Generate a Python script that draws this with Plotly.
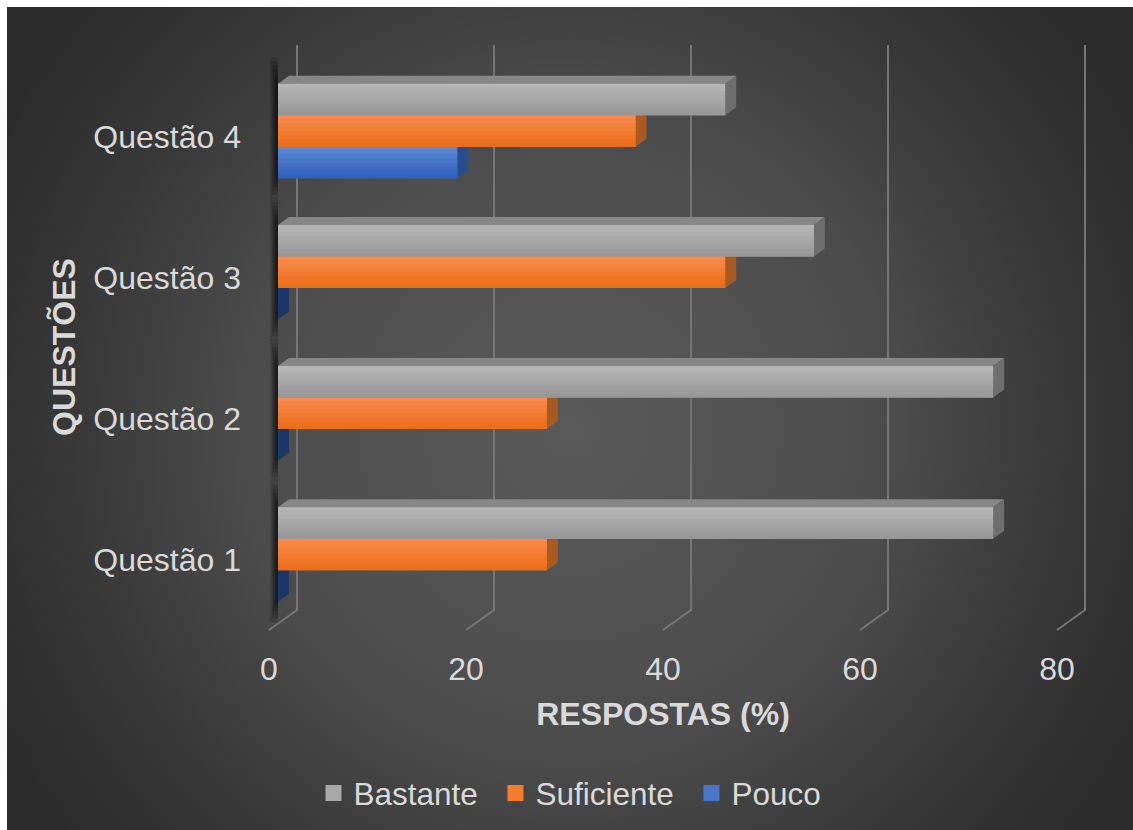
import base64
import plotly.graph_objects as go

categories = ["Questão 1", "Questão 2", "Questão 3", "Questão 4"]
bastante = [72.6, 72.6, 54.4, 45.4]
suficiente = [27.3, 27.3, 45.4, 36.3]
pouco = [0, 0, 0, 18.2]
x_ticks = [0, 20, 40, 60, 80]

W, H = 1133, 830
L, R, T, B = 240, 1086, 40, 654
PX = 9.85      # pixels per percent
PY = 141.17    # pixels per category
X0 = 278
Y0 = 554.5
xr = [(L - X0) / PX, (R - X0) / PX]
yr = [(Y0 - B) / PY, (Y0 - T) / PY]
dx = 11 / PX
dy = 8 / PY
slot = 31.5 / PY

FONT = "Liberation Sans, Arial, sans-serif"
TXT = "#d9d9d9"

series = [
    ("Pouco", pouco, -1, "#4a76c8", (0x5c, 0x85, 0xd2), (0x2f, 0x62, 0xbf), "#274d8f", "#3a5fa5"),
    ("Suficiente", suficiente, 0, "#f47c2c", (0xf9, 0x8b, 0x4e), (0xec, 0x6e, 0x18), "#a85a20", "#c66a28"),
    ("Bastante", bastante, 1, "#a8a8a8", (0xb6, 0xb6, 0xb6), (0x98, 0x98, 0x98), "#6e6e6e", "#878787"),
]
legend_pad = {"Bastante": "\u2009\u2009", "Suficiente": "\u2009\u2009", "Pouco": ""}

shapes = []
# back wall gridlines with the slanted foot
for v in x_ticks:
    gx = v + 19 / PX
    px = lambda p: (Y0 - p) / PY
    shapes.append(dict(type="path", layer="below", xref="x", yref="y",
                       path=f"M{v - 9 / PX},{px(630)} L{gx},{px(610)} L{gx},{px(45)}",
                       line=dict(color="#757575", width=2)))

# soft shadow on the wall beside each group
for i in range(len(categories)):
    for wd, ext in [(8, 68), (6.5, 64), (5.5, 60), (4.5, 56), (3.5, 52), (2.5, 48), (1.5, 44)]:
        shapes.append(dict(type="rect", layer="below", xref="x", yref="y",
                           x0=-wd / PX, x1=0, y0=i - ext / PY, y1=i + ext / PY + 6 / PY,
                           fillcolor="rgba(0,0,0,0.13)", line=dict(width=0)))

# depth faces
for name, vals, pos, col, c1, c2, side, top in series:
    for i, v in enumerate(vals):
        y_hi = i + (pos + 0.5) * slot
        y_lo = i + (pos - 0.5) * slot
        shapes.append(dict(type="path", layer="below", xref="x", yref="y", fillcolor=top, line=dict(width=0),
                           path=f"M0,{y_hi} L{dx},{y_hi + dy} L{v + dx},{y_hi + dy} L{v},{y_hi} Z"))
        shapes.append(dict(type="path", layer="below", xref="x", yref="y",
                           fillcolor="#1b3768" if v == 0 else side, line=dict(width=0),
                           path=f"M{v},{y_lo} L{v + dx},{y_lo + dy} L{v + dx},{y_hi + dy} L{v},{y_hi} Z"))

# vertical shading of the front faces
N = 8
for name, vals, pos, col, c1, c2, side, top in series:
    for i, v in enumerate(vals):
        if v == 0:
            continue
        y_hi = i + (pos + 0.5) * slot
        for s in range(N):
            t = s / (N - 1)
            c = tuple(round(a + (b - a) * t) for a, b in zip(c1, c2))
            shapes.append(dict(type="rect", layer="above", xref="x", yref="y", x0=0, x1=v,
                               y0=y_hi - (s + 1) * slot / N, y1=y_hi - s * slot / N,
                               fillcolor=f"rgb{c}", line=dict(width=0)))

svg = f'''<svg xmlns="http://www.w3.org/2000/svg" width="{W}" height="{H}">
<defs><radialGradient id="g" gradientUnits="userSpaceOnUse" cx="570" cy="430" r="660">
<stop offset="0" stop-color="#5a5a5a"/><stop offset="0.5" stop-color="#4b4b4b"/>
<stop offset="0.75" stop-color="#383838"/><stop offset="1" stop-color="#2a2a2a"/>
</radialGradient></defs><rect x="7" y="7" width="{W}" height="{H}" fill="url(#g)"/></svg>'''
bg = "data:image/svg+xml;base64," + base64.b64encode(svg.encode()).decode()

fig = go.Figure()
for name, vals, pos, col, c1, c2, side, top in series:
    fig.add_trace(go.Bar(y=list(range(len(categories))), x=vals, name=name, orientation="h",
                         marker=dict(color=col, line=dict(width=0)), showlegend=False))
for name, vals, pos, col, c1, c2, side, top in reversed(series):
    fig.add_trace(go.Scatter(x=[None], y=[None], mode="markers", name=name + legend_pad[name],
                             marker=dict(symbol="square", size=16, color=col)))

fig.update_layout(
    width=W, height=H, barmode="group", bargap=1 - 3 * slot, bargroupgap=0,
    margin=dict(l=L, r=W - R, t=T, b=H - B, autoexpand=False),
    paper_bgcolor="white", plot_bgcolor="rgba(0,0,0,0)",
    font=dict(family=FONT, size=32, color=TXT),
    xaxis=dict(range=xr, tickvals=[v - 9 / PX for v in x_ticks], ticktext=[str(v) for v in x_ticks],
               showgrid=False, zeroline=False, showline=False, ticks="", tickfont=dict(size=32),
               ticklabelstandoff=-7,
               title=dict(text="<b>RESPOSTAS (%)</b>", font=dict(size=32, color=TXT), standoff=16)),
    yaxis=dict(range=yr, tickvals=[i - 5.5 / PY for i in range(len(categories))], ticktext=categories,
               showgrid=False, zeroline=False, showline=False, ticks="", ticklabelstandoff=-2,
               tickfont=dict(size=32),
               title=dict(text="<b>QUESTÕES</b>", font=dict(size=32, color=TXT), standoff=8)),
    legend=dict(orientation="h", x=(313.5 - L) / (R - L), xanchor="left", y=(B - 793) / (B - T), yanchor="middle",
                traceorder="normal", font=dict(size=31.5, color=TXT),
                bgcolor="rgba(0,0,0,0)"),
    shapes=shapes,
    images=[dict(source=bg, xref="paper", yref="paper", x=-L / (R - L), y=1 + T / (B - T),
                 sizex=W / (R - L), sizey=H / (B - T), xanchor="left", yanchor="top",
                 sizing="stretch", layer="below")],
)
fig.write_html("out.html", config=dict(displayModeBar=False),
               post_script="document.body.style.margin='0';document.documentElement.style.overflow='hidden';")
